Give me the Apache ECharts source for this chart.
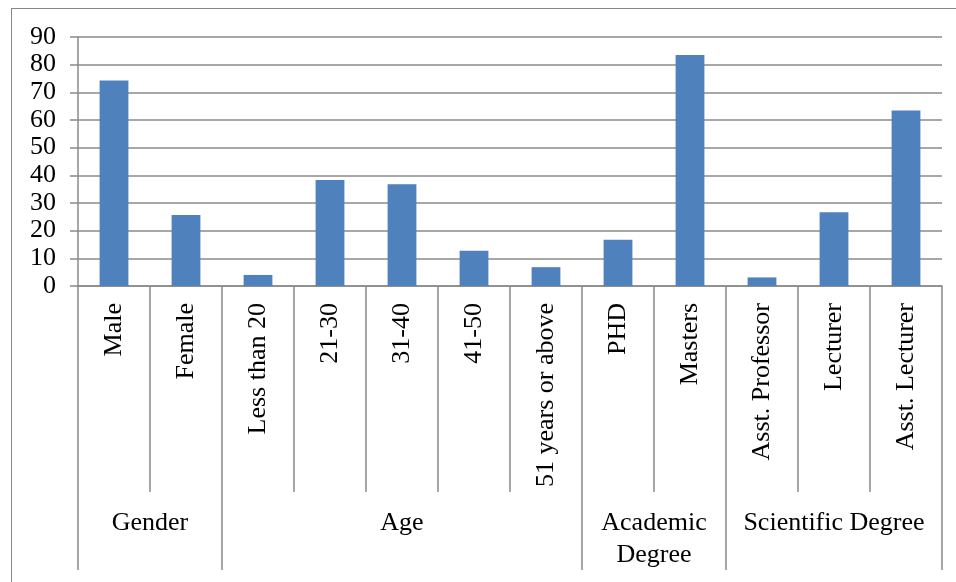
<!DOCTYPE html>
<html>
	<head>
		<meta charset="UTF-8">
		<title>Sample distribution</title>
		<script type="text/javascript" src="https://cdn.jsdelivr.net/npm/echarts@6/dist/echarts.min.js"></script>
		<style>
			body { margin: 0; background: #fff; }
			#frame { position: absolute; left: 11px; top: 8px; width: 960px; height: 590px;
				border-left: 1.5px solid #888; border-top: 1.5px solid #888; }
			#chart { position: absolute; left: 0; top: 0; width: 956px; height: 582px; }
		</style>
	</head>
	<body>
		<div id="frame"></div>
		<div id="chart"></div>
		<script>
			var categories = ["Male", "Female", "Less than 20", "21-30", "31-40", "41-50",
				"51 years or above", "PHD", "Masters", "Asst. Professor", "Lecturer", "Asst. Lecturer"];
			var values = [74.3, 25.7, 4.0, 38.3, 36.8, 12.7, 6.8, 16.7, 83.5, 3.1, 26.7, 63.4];
			var groupNames = ["Gender", "Age", "Academic\nDegree", "Scientific Degree"];
			var groupSizes = [2, 5, 2, 3];
			var yTicks = [0, 10, 20, 30, 40, 50, 60, 70, 80, 90];

			// group boundaries and centres, in category units
			var groupBounds = [0];
			var groupCenters = [];
			var labelByPos = {};
			for (var i = 0; i < groupSizes.length; i++) {
				var start = groupBounds[groupBounds.length - 1];
				var end = start + groupSizes[i];
				groupBounds.push(end);
				groupCenters.push((start + end) / 2);
				labelByPos[(start + end) / 2] = groupNames[i];
			}

			var lineColor = "#8a8a8a";
			var serif = "Liberation Serif";

			var chart = echarts.init(document.getElementById("chart"));
			var option = {
				animation: false,
				grid: { left: 78, right: 14, top: 37, bottom: 296, outerBoundsMode: "none" },
				xAxis: [{
					type: "category",
					data: categories,
					position: "bottom",
					axisLine: { lineStyle: { color: lineColor, width: 1.5 } },
					axisTick: { show: true, length: 206, lineStyle: { color: lineColor, width: 1.5 } },
					axisLabel: { interval: 0, rotate: 90, margin: 17, color: "#000",
						fontFamily: serif, fontSize: 26 }
				}, {
					type: "value",
					min: 0,
					max: groupBounds[groupBounds.length - 1],
					position: "bottom",
					offset: 0,
					splitLine: { show: false },
					axisLine: { show: false },
					axisTick: { show: true, length: 284, customValues: groupBounds,
						lineStyle: { color: lineColor, width: 1.5 } },
					axisLabel: { customValues: groupCenters, margin: 221, color: "#000",
						fontFamily: serif, fontSize: 26, lineHeight: 32,
						formatter: function (v) { return labelByPos[v] || ""; } }
				}],
				yAxis: {
					type: "value",
					min: yTicks[0],
					max: yTicks[yTicks.length - 1],
					interval: 10,
					axisLine: { show: true, lineStyle: { color: lineColor, width: 1.5 } },
					axisTick: { show: true, length: 8, lineStyle: { color: lineColor, width: 1.5 } },
					splitLine: { lineStyle: { color: lineColor, width: 1.5 } },
					axisLabel: { margin: 22, color: "#000", fontFamily: serif, fontSize: 26 }
				},
				series: [{
					type: "bar",
					data: values,
					barWidth: "40%",
					itemStyle: { color: "#4f81bd" }
				}]
			};
			chart.setOption(option);
		</script>
	</body>
</html>
